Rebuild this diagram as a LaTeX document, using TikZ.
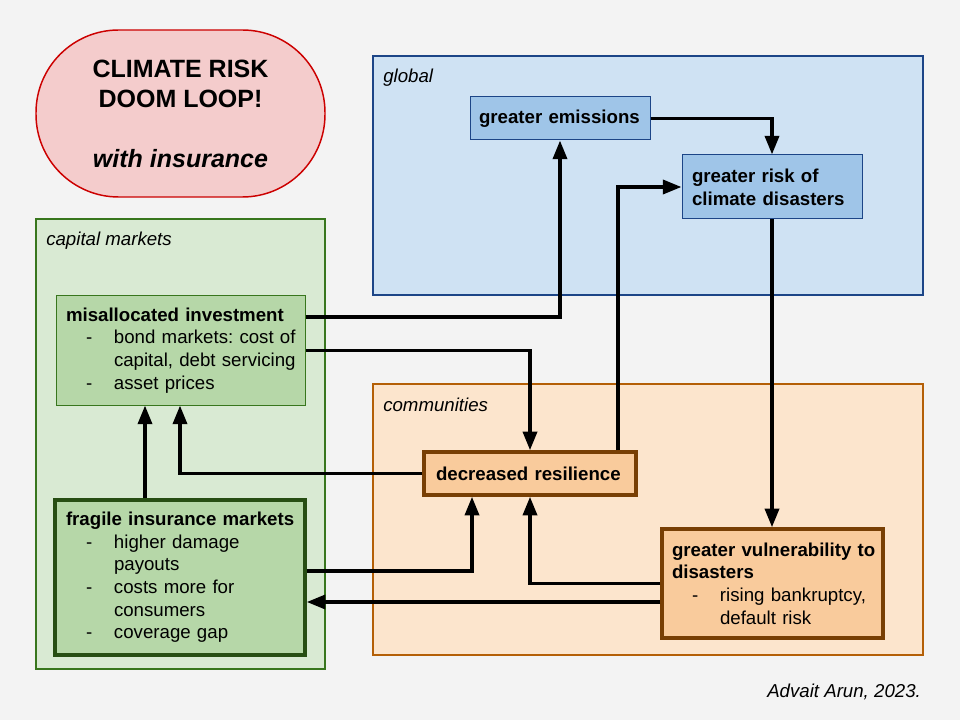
\documentclass[tikz,border=0pt]{standalone}
\usepackage{fontspec}
\setmainfont{Liberation Sans}
\usetikzlibrary{arrows.meta,fit}
\definecolor{bgc}{HTML}{F3F3F3}
\definecolor{titlefill}{HTML}{F4CCCC}
\definecolor{titledraw}{HTML}{CC0000}
\definecolor{glfill}{HTML}{CFE2F3}
\definecolor{gldraw}{HTML}{1C4587}
\definecolor{bluebox}{HTML}{9FC5E8}
\definecolor{cmfill}{HTML}{D9EAD3}
\definecolor{cmdraw}{HTML}{38761D}
\definecolor{greenbox}{HTML}{B6D7A8}
\definecolor{darkgreen}{HTML}{274E13}
\definecolor{cofill}{HTML}{FCE5CD}
\definecolor{codraw}{HTML}{B45F06}
\definecolor{orangebox}{HTML}{F9CB9C}
\definecolor{brown}{HTML}{783F04}
\newcommand{\bl}[1]{\mbox{\makebox[36pt][l]{\hspace{15pt}-}#1}}
\newcommand{\ind}[1]{\mbox{\makebox[36pt]{}#1}}
\newcommand{\hd}[1]{\mbox{\textbf{#1}}}
\begin{document}
\begin{tikzpicture}[x=0.75pt,y=-0.75pt,
  container/.style={draw, line width=1.1pt, inner sep=0pt},
  lab/.style={anchor=base west, inner sep=0pt, font=\fontsize{14}{17}\selectfont\itshape},
  box/.style={inner sep=0pt, align=left, font=\fontsize{14}{17}\selectfont\frenchspacing},
  thinbox/.style={box, draw, line width=0.75pt},
  thickbox/.style={box, draw, line width=2.6pt},
  arr/.style={draw, line width=2.7pt, -{Triangle[length=14pt,width=10.5pt]}}
]
\fill[bgc] (0,0) rectangle (960,720);
\useasboundingbox (0,0) rectangle (960,720);

% title
\node[draw=titledraw, fill=titlefill, line width=1.1pt, rounded corners=62pt, inner sep=0pt,
      minimum width=216.75pt, minimum height=125.25pt, align=center,
      font=\fontsize{18.75}{22.5}\selectfont\bfseries] (title) at (180.5,113.5)
  {CLIMATE RISK\\DOOM LOOP!\\[22.5pt]\textit{with insurance}};

% containers
\node[container, draw=gldraw, fill=glfill, fit={(373,56) (923,295)}] (global) {};
\node[lab] (globallab) at (383,83) {global};
\node[container, draw=cmdraw, fill=cmfill, fit={(36,219) (325,669)}] (capital) {};
\node[lab] (capitallab) at (46,246) {capital markets};
\node[container, draw=codraw, fill=cofill, fit={(373,384) (923,655)}] (comm) {};
\node[lab] (commlab) at (383,411) {communities};

% blue boxes
\node[thinbox, draw=gldraw, fill=bluebox, minimum width=135pt, minimum height=32.25pt,
      text width=121.5pt] (emis) at (560,118.5)
  {\hd{greater emissions}};
\node[thinbox, draw=gldraw, fill=bluebox, minimum width=135pt, minimum height=48pt,
      text width=120pt] (risk) at (772,187)
  {\hd{greater risk of}\\\hd{climate disasters}};

% green boxes
\node[thinbox, draw=cmdraw, fill=greenbox, minimum width=186.75pt, minimum height=81.75pt,
      text width=171.75pt] (mis) at (180.5,350.5)
  {\hd{misallocated investment}\\
   \bl{bond markets: cost of}\\
   \ind{capital, debt servicing}\\
   \bl{asset prices}};
\node[thickbox, draw=darkgreen, fill=greenbox, minimum width=187.5pt, minimum height=116.25pt,
      text width=171pt] (frag) at (180,577.5)
  {\hd{fragile insurance markets}\\
   \bl{higher damage}\\
   \ind{payouts}\\
   \bl{costs more for}\\
   \ind{consumers}\\
   \bl{coverage gap}};

% orange boxes
\node[thickbox, draw=brown, fill=orangebox, minimum width=159pt, minimum height=32.25pt,
      text width=141pt] (res) at (530,473.5)
  {\hd{decreased resilience}};
\node[thickbox, draw=brown, fill=orangebox, minimum width=165.75pt, minimum height=81.75pt,
      text width=150.75pt] (vuln) at (772.5,583.5)
  {\hd{greater vulnerability to}\\
   \hd{disasters}\\
   \bl{rising bankruptcy,}\\
   \ind{default risk}};

% credit
\node[lab] (credit) at (767,697) {Advait Arun, 2023.};

% connectors
\draw[arr] (emis.east) -| (risk.north);
\draw[arr] (risk.south) -- (risk.south |- vuln.north);
\draw[arr] (618,0 |- res.north) |- (risk.west);
\draw[arr] (mis.east |- 0,317) -| (emis.south);
\draw[arr] (mis.east) -| (res.north);
\draw[arr] (res.west) -| (180,0 |- mis.south);
\draw[arr] (145,0 |- frag.north) -- (145,0 |- mis.south);
\draw[arr] (frag.east |- 0,571) -| (472,0 |- res.south);
\draw[arr] (vuln.west) -| (res.south);
\draw[arr] (vuln.west |- 0,602) -- (frag.east |- 0,602);
\end{tikzpicture}
\end{document}
